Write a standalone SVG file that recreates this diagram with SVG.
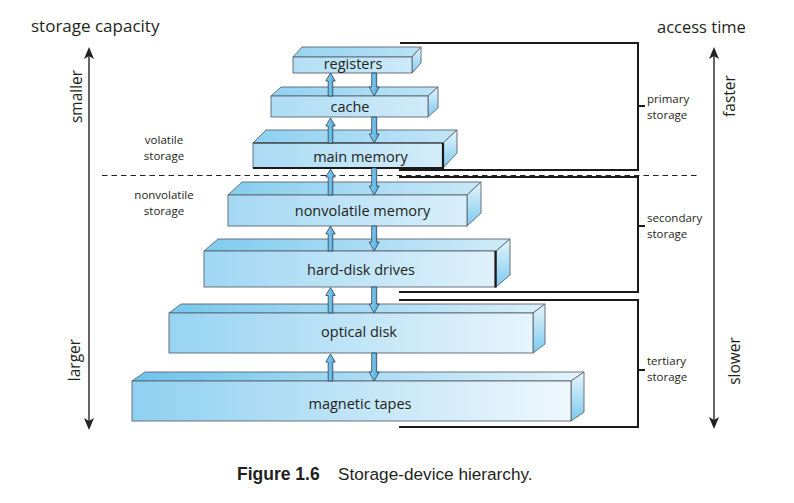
<svg xmlns="http://www.w3.org/2000/svg" width="794" height="503" viewBox="0 0 794 503">
<style>
.front{fill:url(#gFront);stroke:#5b6570;stroke-width:0.9}
.top{fill:url(#gTop);stroke:#5b6570;stroke-width:0.9;stroke-linejoin:round}
.side{fill:url(#gSide);stroke:#5b6570;stroke-width:0.9;stroke-linejoin:round}
.lbl{font-family:"Open Sans","Liberation Sans",sans-serif;font-size:14.5px;fill:#231f20;text-anchor:middle}
.small{font-family:"Open Sans","Liberation Sans",sans-serif;font-size:11.5px;fill:#231f20}
.axis{font-family:"Open Sans","Liberation Sans",sans-serif;font-size:15.5px;fill:#231f20;text-anchor:middle}
.title{font-family:"Open Sans","Liberation Sans",sans-serif;font-size:17px;fill:#231f20}
.arr{fill:url(#gArr);stroke:#2e3c4a;stroke-width:0.8;stroke-linejoin:miter}
.br{fill:none;stroke:#1a1a1a;stroke-width:2}
.thick{stroke:#1a1a1a;stroke-width:2.2;fill:none}
.ax{stroke:#333;stroke-width:1.5;fill:none}
</style>
<defs>
<linearGradient id="gFront" gradientUnits="userSpaceOnUse" x1="130" y1="0" x2="585" y2="0">
<stop offset="0" stop-color="#8fd0f1"/>
<stop offset="1" stop-color="#f2f9fd"/>
</linearGradient>
<linearGradient id="gTop" gradientUnits="userSpaceOnUse" x1="130" y1="0" x2="585" y2="0">
<stop offset="0" stop-color="#6cc3ec"/>
<stop offset="1" stop-color="#e4f3fb"/>
</linearGradient>
<linearGradient id="gSide" x1="0" y1="0" x2="0" y2="1">
<stop offset="0" stop-color="#e6f4fc"/>
<stop offset="1" stop-color="#7ccaef"/>
</linearGradient>
<linearGradient id="gArr" x1="0" y1="0" x2="1" y2="0">
<stop offset="0" stop-color="#8fd3f3"/>
<stop offset="1" stop-color="#4aa9dd"/>
</linearGradient>
<marker id="ah" viewBox="0 0 12 10" refX="10" refY="5" markerWidth="12" markerHeight="10" markerUnits="userSpaceOnUse" orient="auto-start-reverse">
<path d="M0,0 L12,5 L0,10 L3,5 Z" fill="#222"/>
</marker>
</defs>
<rect width="794" height="503" fill="#ffffff"/>

<!-- titles -->
<text class="title" x="31" y="32">storage capacity</text>
<text class="title" x="657" y="33" style="font-size:16.5px">access time</text>

<!-- axes -->
<g id="axes">
<line class="ax" x1="89" y1="49" x2="89" y2="428" marker-start="url(#ah)" marker-end="url(#ah)"/>
<line class="ax" x1="714" y1="49" x2="714" y2="427" marker-start="url(#ah)" marker-end="url(#ah)"/>
<text class="axis" transform="translate(82,96.5) rotate(-90)">smaller</text>
<text class="axis" transform="translate(80,360) rotate(-90)">larger</text>
<text class="axis" transform="translate(735,96) rotate(-90)">faster</text>
<text class="axis" transform="translate(740,361) rotate(-90)">slower</text>
</g>

<!-- volatile divider -->
<line x1="102" y1="175.5" x2="700" y2="175.5" stroke="#222" stroke-width="1" stroke-dasharray="5.5 4"/>
<text class="small" x="164" y="143.5" text-anchor="middle">volatile</text>
<text class="small" x="164" y="159.5" text-anchor="middle">storage</text>
<text class="small" x="164" y="198.5" text-anchor="middle">nonvolatile</text>
<text class="small" x="164" y="214.5" text-anchor="middle">storage</text>

<!-- brackets -->
<g id="brackets">
<polyline class="br" points="400,43 638,43 638,170 399,170"/>
<line class="br" x1="638" y1="106" x2="645" y2="106"/>
<polyline class="br" points="399,177 638,177 638,292 399,292"/>
<line class="br" x1="638" y1="226" x2="645" y2="226"/>
<polyline class="br" points="399,300 638,300 638,427 399,427"/>
<line class="br" x1="638" y1="370" x2="645" y2="370"/>
<text class="small" x="647" y="102.5">primary</text>
<text class="small" x="647" y="118.5">storage</text>
<text class="small" x="647" y="221.5">secondary</text>
<text class="small" x="647" y="237.5">storage</text>
<text class="small" x="647" y="364.5">tertiary</text>
<text class="small" x="647" y="380.5">storage</text>
</g>

<!-- boxes -->
<g id="tapes">
<path class="top" d="M132,381 L145,372 L584,372 L571,381 Z"/>
<path class="side" d="M571,381 L584,372 L584,412 L571,421 Z"/>
<rect class="front" x="132" y="381" width="439" height="40"/>
<text class="lbl" x="360" y="408.5">magnetic tapes</text>
</g>
<g id="optical">
<path class="top" d="M169,313 L181,304 L545,304 L533,313 Z"/>
<path class="side" d="M533,313 L545,304 L545,344 L533,353 Z"/>
<rect class="front" x="169" y="313" width="364" height="40"/>
<text class="lbl" x="359" y="336.5">optical disk</text>
</g>
<g id="hdd">
<path class="top" d="M204,251 L218,239 L510,239 L496,251 Z"/>
<path class="side" d="M496,251 L510,239 L510,275 L496,287 Z"/>
<rect class="front" x="204" y="251" width="292" height="36"/>
<line class="thick" x1="495.5" y1="251" x2="495.5" y2="287.5"/>
<text class="lbl" x="361" y="275">hard-disk drives</text>
</g>
<g id="nvm">
<path class="top" d="M228,195 L242,182 L481,182 L467,195 Z"/>
<path class="side" d="M467,195 L481,182 L481,213 L467,226 Z"/>
<rect class="front" x="228" y="195" width="239" height="31"/>
<text class="lbl" x="362.5" y="215.5">nonvolatile memory</text>
</g>
<g id="mainmem">
<path class="top" d="M253,143 L266,130 L457,130 L443,143 Z"/>
<path class="side" d="M443,143 L457,130 L457,153 L443,168 Z"/>
<rect class="front" x="253" y="143" width="190" height="25"/>
<polyline class="thick" points="253,168 443,168 443,143"/>
<line x1="253" y1="143" x2="443" y2="143" stroke="#333" stroke-width="1.2"/>
<text class="lbl" x="360.5" y="161.5">main memory</text>
</g>
<g id="cache">
<path class="top" d="M271,96 L281,87 L438,87 L428,96 Z"/>
<path class="side" d="M428,96 L438,87 L438,108 L428,117 Z"/>
<rect class="front" x="271" y="96" width="157" height="21"/>
<text class="lbl" x="350" y="111.5">cache</text>
</g>
<g id="registers">
<path class="top" d="M293,57 L302,47 L421,47 L412,57 Z"/>
<path class="side" d="M412,57 L421,47 L421,63 L412,73 Z"/>
<rect class="front" x="293" y="57" width="119" height="16"/>
<text class="lbl" x="353" y="69">registers</text>
</g>

<!-- connectors -->
<g id="connectors">
<path class="arr" d="M328.2,96 L328.2,81 L325.8,81 L330.5,73 L335.2,81 L332.8,81 L332.8,96 Z"/>
<path class="arr" d="M328.2,143 L328.2,126 L325.8,126 L330.5,118 L335.2,126 L332.8,126 L332.8,143 Z"/>
<path class="arr" d="M328.2,195 L328.2,177 L325.8,177 L330.5,169 L335.2,177 L332.8,177 L332.8,195 Z"/>
<path class="arr" d="M328.2,251 L328.2,234 L325.8,234 L330.5,226 L335.2,234 L332.8,234 L332.8,251 Z"/>
<path class="arr" d="M328.2,313 L328.2,295.5 L325.8,295.5 L330.5,287.5 L335.2,295.5 L332.8,295.5 L332.8,313 Z"/>
<path class="arr" d="M328.2,381 L328.2,362 L325.8,362 L330.5,354 L335.2,362 L332.8,362 L332.8,381 Z"/>
<path class="arr" d="M371.7,73 L371.7,87 L369.2,87 L374.2,96 L379.2,87 L376.7,87 L376.7,73 Z"/>
<path class="arr" d="M371.7,117 L371.7,134 L369.2,134 L374.2,143 L379.2,134 L376.7,134 L376.7,117 Z"/>
<path class="arr" d="M371.7,168 L371.7,186 L369.2,186 L374.2,195 L379.2,186 L376.7,186 L376.7,168 Z"/>
<path class="arr" d="M371.7,226 L371.7,242 L369.2,242 L374.2,251 L379.2,242 L376.7,242 L376.7,226 Z"/>
<path class="arr" d="M371.7,287 L371.7,304 L369.2,304 L374.2,313 L379.2,304 L376.7,304 L376.7,287 Z"/>
<path class="arr" d="M371.7,353 L371.7,372 L369.2,372 L374.2,381 L379.2,372 L376.7,372 L376.7,353 Z"/>
</g>

<!-- caption -->
<text x="237" y="480" font-family="'Liberation Sans',Arial,sans-serif" font-size="17.5" font-weight="bold" fill="#231f20">Figure 1.6</text>
<text x="338" y="480" font-family="'Liberation Sans',Arial,sans-serif" font-size="17.2" fill="#231f20">Storage-device hierarchy.</text>
</svg>
